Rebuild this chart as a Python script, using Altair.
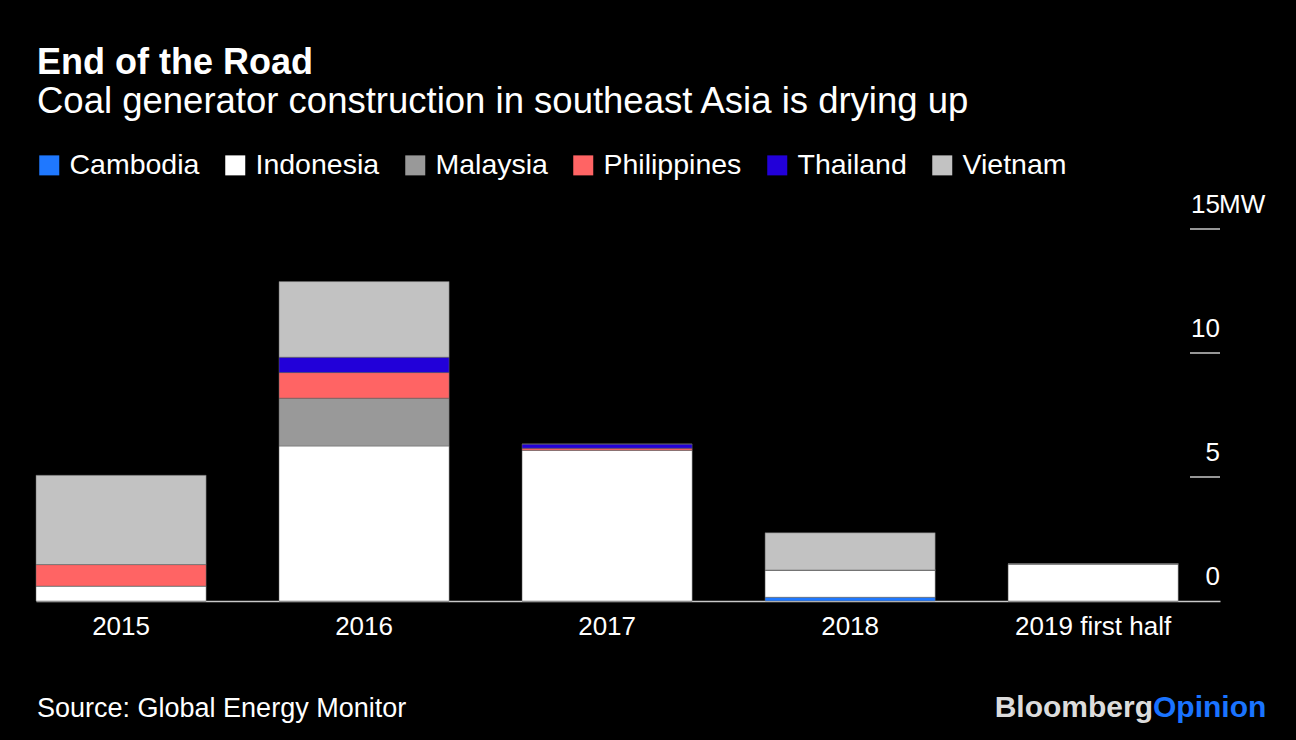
import altair as alt
import pandas as pd

periods = ["2015", "2016", "2017", "2018", "2019 first half"]
countries = ["Cambodia", "Indonesia", "Malaysia", "Philippines", "Thailand", "Vietnam"]
cambodia = [0, 0, 0, 0.15, 0]
indonesia = [0.6, 6.25, 6.08, 1.1, 1.5]
malaysia = [0, 1.93, 0, 0, 0]
philippines = [0.87, 1.03, 0.08, 0, 0]
thailand = [0, 0.62, 0.17, 0, 0]
vietnam = [3.6, 3.05, 0, 1.5, 0]
colors = ["#1f78ff", "#ffffff", "#999999", "#ff6464", "#2200d9", "#c2c2c2"]
y_ticks = [0, 5, 10, 15]
y_tick_labels = ["0", "5", "10", "15"]

# make the page around the chart black, like the reference
try:
    import altair.utils.html as _ah
    _orig = _ah.TEMPLATES["standard"]

    class _BlackPage:
        def render(self, *args, **kwargs):
            html = _orig.render(*args, **kwargs)
            return html.replace("<head>", "<head><style>body{background:#000;}</style>", 1)

    _ah.TEMPLATES["standard"] = _BlackPage()
except Exception:
    pass

series = [cambodia, indonesia, malaysia, philippines, thailand, vietnam]
rows = []
for ci, (c, vals) in enumerate(zip(countries, series)):
    for p, v in zip(periods, vals):
        rows.append({"period": p, "country": c, "value": v, "order": ci})
df = pd.DataFrame(rows)

FONT = "Liberation Sans"
W, H = 1184, 372

yscale = alt.Scale(domain=[0, 15], nice=False, zero=True)

bars = alt.Chart(df).mark_bar(stroke="#666666", strokeWidth=0.5).encode(
    x=alt.X("period:N", sort=periods,
            scale=alt.Scale(paddingInner=0.3, paddingOuter=0.086, align=0),
            axis=alt.Axis(title=None, labelAngle=0, ticks=False, domain=True,
                          domainColor="#c8c8c8", domainWidth=1.5,
                          labelColor="white", labelFont=FONT, labelFontSize=26,
                          labelPadding=12)),
    y=alt.Y("value:Q", stack="zero", scale=yscale, axis=None),
    color=alt.Color("country:N", sort=countries,
                    scale=alt.Scale(domain=countries, range=colors),
                    legend=alt.Legend(title=None, orient="none", legendX=-1, legendY=-78,
                                      direction="horizontal", symbolType="square",
                                      symbolSize=400, symbolStrokeWidth=0,
                                      symbolOpacity=1,
                                      labelFontSize=28.5, labelColor="white", labelFont=FONT,
                                      columnPadding=21, labelOffset=6)),
    order=alt.Order("order:Q", sort="ascending"),
)

ticks_df = pd.DataFrame({"v": y_ticks, "lab": y_tick_labels})
tick_rules = alt.Chart(ticks_df[ticks_df.v > 0]).mark_rule(color="#c8c8c8", strokeWidth=1.5).encode(
    y=alt.Y("v:Q", scale=yscale, axis=None),
    x=alt.value(W - 30), x2=alt.value(W),
)
tick_text = alt.Chart(ticks_df).mark_text(
    align="right", baseline="alphabetic", dy=-16, color="white", font=FONT, fontSize=26
).encode(
    y=alt.Y("v:Q", scale=yscale, axis=None),
    x=alt.value(W), text="lab:N",
)
unit_text = alt.Chart(pd.DataFrame({"v": [15], "t": ["MW"]})).mark_text(
    align="left", baseline="alphabetic", dy=-16, color="white", font=FONT, fontSize=26
).encode(
    y=alt.Y("v:Q", scale=yscale, axis=None),
    x=alt.value(W - 1), text="t:N",
)

def label(text, x, y, size, weight="normal", color="white", align="left"):
    return alt.Chart(pd.DataFrame({"t": [text]})).mark_text(
        align=align, baseline="alphabetic", color=color, font=FONT,
        fontSize=size, fontWeight=weight
    ).encode(x=alt.value(x), y=alt.value(y), text="t:N")

title = label("End of the Road", 1, -155, 36, weight="bold")
subtitle = label("Coal generator construction in southeast Asia is drying up", 1, -116, 36.5)
source = label("Source: Global Energy Monitor", 1, 488, 27)
logo1 = label("Bloomberg", 1117, 488, 30, weight="bold", color="#dcdcdc", align="right")
logo2 = label("Opinion", 1117, 488, 30, weight="bold", color="#1a73ff", align="left")

chart = alt.layer(bars, tick_rules, tick_text, unit_text, title, subtitle, source, logo1, logo2).properties(
    width=W, height=H,
    padding={"left": 28, "top": 221, "right": 68, "bottom": 124},
    autosize=alt.AutoSizeParams(type="none"),
    background="black",
).configure_view(stroke=None)

chart.save("out.html", embed_options={"renderer": "svg", "actions": False})
